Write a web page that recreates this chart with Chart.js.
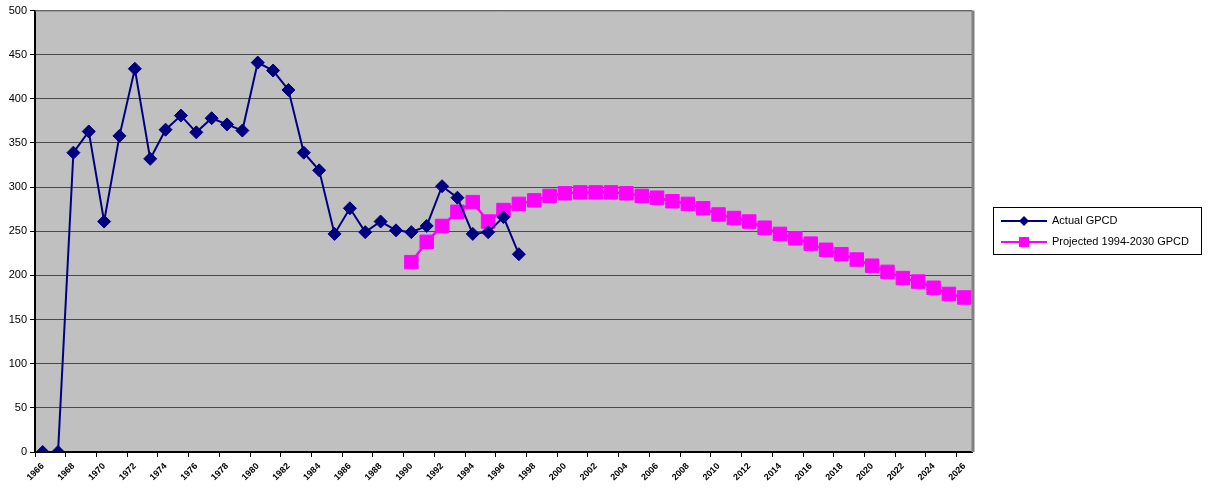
<!DOCTYPE html>
<html>
<head>
<meta charset="utf-8">
<script src="https://cdn.jsdelivr.net/npm/chart.js@4"></script>
<style>
  html, body { margin: 0; padding: 0; background: #fff; }
  #wrap { width: 1209px; height: 502px; }
</style>
</head>
<body>
<div id="wrap"><canvas id="gpcd"></canvas></div>
<script>
// years on the category axis (one per point)
const years = [];
for (let y = 1966; y <= 2026; y++) years.push(String(y));

const actualGpcd = [0, 0, 339, 363, 261, 358, 434, 332, 365, 381, 362, 378, 371, 364,
  441, 432, 410, 339, 319, 247, 276, 249, 261, 251, 249, 256, 301, 288, 247, 249, 266, 224];

const projectedGpcd = [215, 238, 256, 272, 283, 261, 274, 281, 285, 290, 293, 294, 294,
  294, 293, 290, 288, 284, 281, 276, 269, 265, 261, 254, 247, 242, 236, 229, 224, 218,
  211, 204, 197, 193, 186, 179, 175];
const projectedStart = 24;

const yTicks = { min: 0, max: 500, step: 50 };

const axisFont = { family: 'Liberation Sans, Arial, sans-serif', size: 11 };

function padTo(arr, start, len) {
  const out = new Array(len).fill(null);
  arr.forEach((v, i) => { out[start + i] = v; });
  return out;
}

const plotBack = {
  id: 'plotBack',
  beforeDraw(chart) {
    const a = chart.chartArea, ctx = chart.ctx;
    ctx.save();
    ctx.fillStyle = '#c0c0c0';
    ctx.fillRect(a.left, a.top, a.right - a.left, a.bottom - a.top);
    ctx.restore();
  },
  afterDatasetsDraw(chart) {
    const a = chart.chartArea, ctx = chart.ctx;
    ctx.save();
    ctx.strokeStyle = '#808080';
    ctx.lineWidth = 1;
    ctx.beginPath();
    ctx.moveTo(a.left, a.top + 0.5);
    ctx.lineTo(a.right, a.top + 0.5);
    ctx.stroke();
    ctx.lineWidth = 3;
    ctx.beginPath();
    ctx.moveTo(a.right + 1, a.top);
    ctx.lineTo(a.right + 1, a.bottom);
    ctx.stroke();
    ctx.restore();
  }
};

const boxLegend = {
  id: 'boxLegend',
  afterDraw(chart) {
    const ctx = chart.ctx;
    const x = 993, y = 207, w = 208, h = 47;
    ctx.save();
    ctx.fillStyle = '#fff';
    ctx.fillRect(x, y, w, h);
    ctx.strokeStyle = '#000';
    ctx.lineWidth = 1;
    ctx.strokeRect(x + 0.5, y + 0.5, w, h);
    chart.data.datasets.forEach((ds, i) => {
      const ly = y + 14 + i * 21;
      ctx.strokeStyle = ds.borderColor;
      ctx.lineWidth = 2;
      ctx.beginPath();
      ctx.moveTo(x + 8, ly);
      ctx.lineTo(x + 54, ly);
      ctx.stroke();
      ctx.fillStyle = ds.borderColor;
      if (i === 0) {
        ctx.beginPath();
        ctx.moveTo(x + 31, ly - 5);
        ctx.lineTo(x + 36, ly);
        ctx.lineTo(x + 31, ly + 5);
        ctx.lineTo(x + 26, ly);
        ctx.closePath();
        ctx.fill();
      } else {
        ctx.fillRect(x + 26, ly - 5, 10, 10);
      }
      ctx.fillStyle = '#000';
      ctx.font = '11px "Liberation Sans", Arial, sans-serif';
      ctx.textBaseline = 'middle';
      ctx.fillText(ds.label, x + 59, ly);
    });
    ctx.restore();
  }
};

new Chart(document.getElementById('gpcd'), {
  type: 'line',
  data: {
    labels: years,
    datasets: [
      {
        label: 'Actual GPCD',
        data: padTo(actualGpcd, 0, years.length),
        borderColor: '#000080',
        backgroundColor: '#000080',
        borderWidth: 2,
        pointStyle: 'rectRot',
        pointRadius: 6.5,
        pointBorderWidth: 1,
        spanGaps: false,
        tension: 0
      },
      {
        label: 'Projected 1994-2030 GPCD',
        data: padTo(projectedGpcd, projectedStart, years.length),
        borderColor: '#ff00ff',
        backgroundColor: '#ff00ff',
        borderWidth: 2.5,
        pointStyle: 'rect',
        pointRadius: 9.5,
        pointBorderWidth: 1,
        spanGaps: false,
        tension: 0
      }
    ]
  },
  options: {
    responsive: true,
    maintainAspectRatio: false,
    animation: false,
    layout: { padding: { top: 10, right: 237, left: 0, bottom: 0 } },
    plugins: {
      legend: { display: false },
      tooltip: { enabled: false }
    },
    scales: {
      x: {
        offset: true,
        afterFit(s) { s.height = 50; },
        grid: {
          offset: true,
          drawOnChartArea: false,
          drawTicks: true,
          tickLength: 5,
          tickColor: (c) => (c.index % 2 === 0 ? '#000' : 'rgba(0,0,0,0)')
        },
        border: { color: '#000', width: 2 },
        ticks: {
          autoSkip: false,
          maxRotation: 45,
          minRotation: 45,
          font: { family: axisFont.family, size: 9, weight: 'bold' },
          color: '#000',
          padding: 4,
          callback(v, i) { return i % 2 === 0 ? years[i] : ''; }
        }
      },
      y: {
        min: yTicks.min,
        max: yTicks.max,
        afterFit(s) { s.width = 35; },
        grid: {
          color: '#4a4a4a',
          lineWidth: 1,
          tickLength: 5,
          tickColor: '#000'
        },
        border: { color: '#000', width: 2 },
        ticks: {
          stepSize: yTicks.step,
          font: axisFont,
          color: '#000',
          padding: 3
        }
      }
    }
  },
  plugins: [plotBack, boxLegend]
});
</script>
</body>
</html>
